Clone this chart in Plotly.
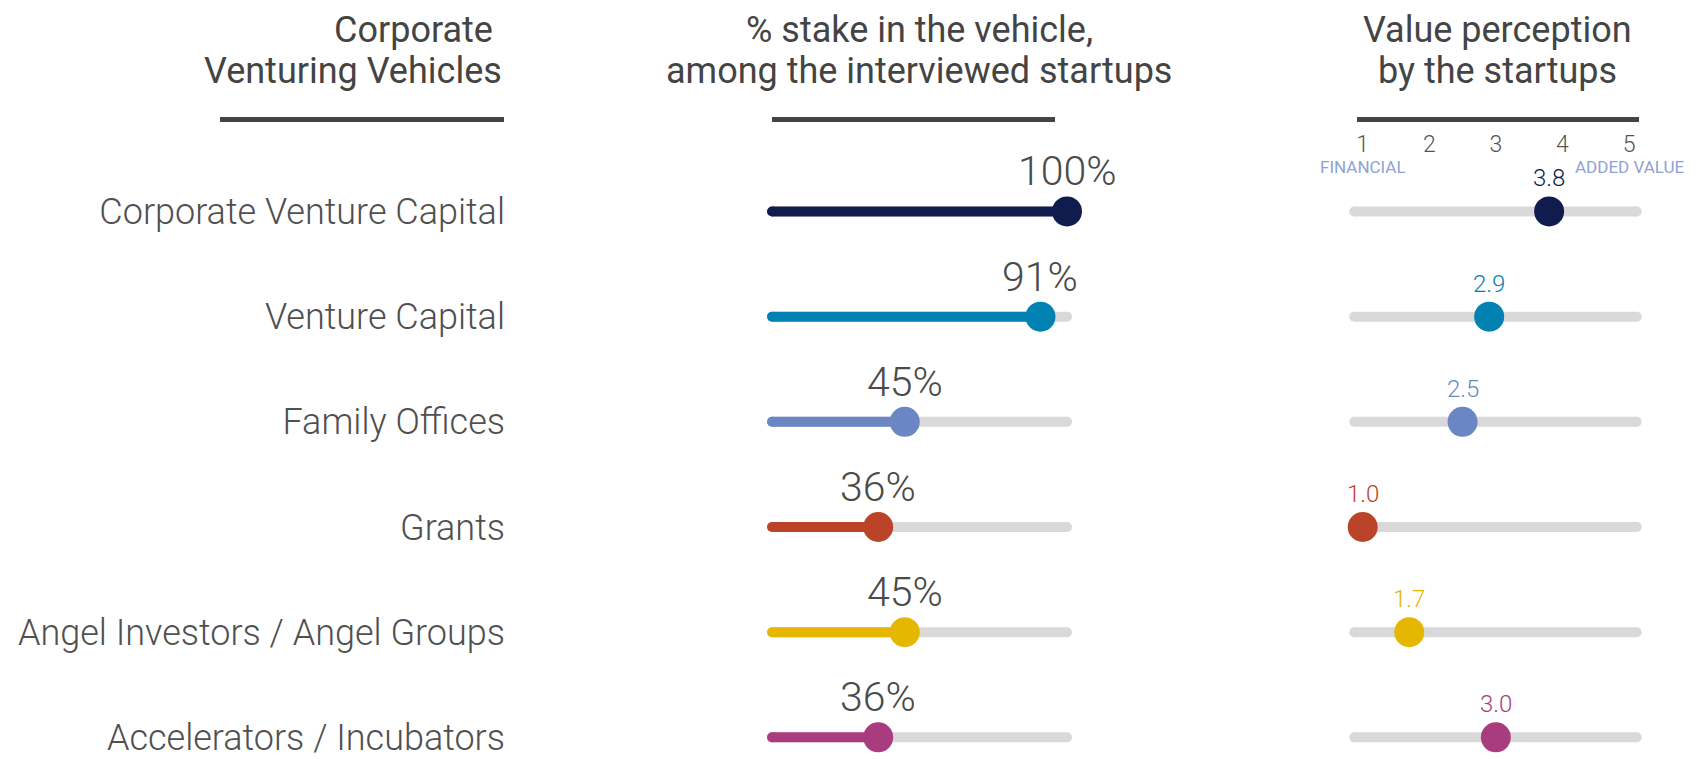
import plotly.graph_objects as go

# ---------------- data ----------------
categories = [
    "Corporate Venture Capital",
    "Venture Capital",
    "Family Offices",
    "Grants",
    "Angel Investors / Angel Groups",
    "Accelerators / Incubators",
]
stake_pct = [100, 91, 45, 36, 45, 36]
perception = [3.8, 2.9, 2.5, 1.0, 1.7, 3.0]
colors = ["#101c4e", "#0282b2", "#6a87c3", "#bb4428", "#e6b700", "#a93c7e"]
scale_ticks = [1, 2, 3, 4, 5]
scale_tick_labels = ["1", "2", "3", "4", "5"]
scale_end_labels = ["FINANCIAL", "ADDED VALUE"]
header_left = ["Corporate\u00a0", "Venturing Vehicles"]
header_mid = ["% stake in the vehicle,", "among the interviewed startups"]
header_right = ["Value perception", "by the startups"]

# ---------------- layout constants ----------------
W, H = 1699, 759
FONT = "Roboto"
TXT = "#444444"
GRAY = "#d9d9d9"
STAKE_TRACK = (0, 100)
PERC_TRACK = (0.874, 5.115)
rows = list(range(len(categories)))


def px(x):
    return x / W


def py(y):
    return 1 - y / H


fig = go.Figure()

# stake panel
for i in rows:
    fig.add_trace(go.Scatter(
        x=list(STAKE_TRACK), y=[i, i], mode="lines+markers", xaxis="x", yaxis="y",
        line=dict(color=GRAY, width=10),
        marker=dict(size=10, color=GRAY, opacity=1, line=dict(width=0)),
        cliponaxis=False, hoverinfo="skip", showlegend=False))
for i in rows:
    fig.add_trace(go.Scatter(
        x=[0, stake_pct[i]], y=[i, i], mode="lines+markers", xaxis="x", yaxis="y",
        line=dict(color=colors[i], width=10),
        marker=dict(size=[10, 30], color=colors[i], opacity=1, line=dict(width=0)),
        cliponaxis=False, showlegend=False,
        hovertemplate=categories[i] + ": %{x}%<extra></extra>"))
    fig.add_annotation(x=stake_pct[i], y=i, xref="x", yref="y", text=f"{stake_pct[i]}%",
                       showarrow=False, xanchor="center", yanchor="middle", yshift=40,
                       font=dict(family=FONT, size=41, color="#4a4a4a", weight=300))

# perception panel
for i in rows:
    fig.add_trace(go.Scatter(
        x=list(PERC_TRACK), y=[i, i], mode="lines+markers", xaxis="x2", yaxis="y",
        line=dict(color=GRAY, width=10),
        marker=dict(size=10, color=GRAY, opacity=1, line=dict(width=0)),
        cliponaxis=False, hoverinfo="skip", showlegend=False))
for i in rows:
    fig.add_trace(go.Scatter(
        x=[perception[i]], y=[i], mode="markers", xaxis="x2", yaxis="y",
        marker=dict(size=30, color=colors[i], opacity=1, line=dict(width=0)),
        cliponaxis=False, showlegend=False,
        hovertemplate=categories[i] + ": %{x:.1f}<extra></extra>"))
    fig.add_annotation(x=perception[i], y=i, xref="x2", yref="y", text=f"{perception[i]:.1f}",
                       showarrow=False, xanchor="center", yanchor="middle", yshift=33,
                       font=dict(family=FONT, size=24, color=colors[i], weight=300))

# scale end labels
for xv, t in zip([scale_ticks[0], scale_ticks[-1]], scale_end_labels):
    fig.add_annotation(x=xv, y=py(169), xref="x2", yref="paper", text=t, showarrow=False,
                       xanchor="center", yanchor="middle",
                       font=dict(family=FONT, size=17, color="#8ea3d5"))

# headers
def header(lines, x, anchor):
    for t, yc in zip(lines, [30, 72]):
        fig.add_annotation(x=px(x), y=py(yc), xref="paper", yref="paper", text=t,
                           showarrow=False, xanchor=anchor, yanchor="middle",
                           font=dict(family=FONT, size=36, color=TXT))

header(header_left, 504, "right")
header(header_mid, 919, "center")
header(header_right, 1497, "center")

for x0, x1 in [(220, 504), (772, 1055), (1357, 1639)]:
    fig.add_shape(type="line", xref="paper", yref="paper", x0=px(x0), x1=px(x1),
                  y0=py(120.7), y1=py(120.7), line=dict(color="#444444", width=5))

# axes: row pitch 106.3px, first row at 213.7px
top_val = -213.7 / 106.3
bot_val = (H - 213.7) / 106.3

fig.update_layout(
    width=W, height=H, margin=dict(l=0, r=0, t=0, b=0),
    paper_bgcolor="white", plot_bgcolor="white",
    font=dict(family=FONT),
    xaxis=dict(domain=[px(763.15), px(1075.85)], range=[-3, 103], visible=False, fixedrange=True),
    xaxis2=dict(domain=[px(1342.7), px(1649)], range=[0.7, 5.3], side="top", anchor="free",
                position=py(158), tickvals=scale_ticks, ticktext=scale_tick_labels,
                showgrid=False, zeroline=False, showline=False, ticks="",
                tickfont=dict(family=FONT, size=23, color="#555555", weight=300), fixedrange=True),
    yaxis=dict(domain=[0, 1], range=[bot_val, top_val], anchor="free", position=px(505),
               tickvals=rows, ticktext=categories, showgrid=False, zeroline=False,
               showline=False, ticks="", ticklabeloverflow="allow",
               tickfont=dict(family=FONT, size=36, color="#505050", weight=300), fixedrange=True),
)

fig.write_html("out.html")
